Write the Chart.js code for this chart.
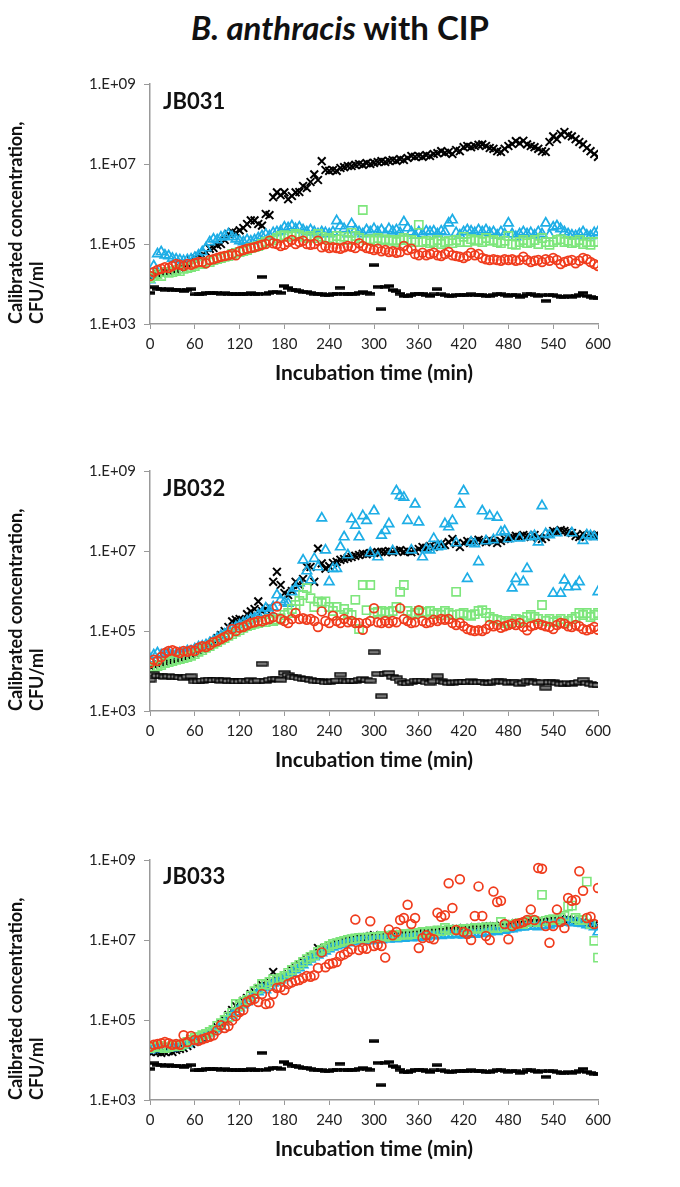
<!DOCTYPE html>
<html>
<head>
<meta charset="utf-8">
<script src="https://cdn.jsdelivr.net/npm/chart.js@4.4.0/dist/chart.umd.min.js"></script>
<style>
  body { margin:0; background:#fff; width:680px; height:1187px; position:relative; overflow:hidden; font-family:Lato, "Open Sans", sans-serif; }
  #title { position:absolute; left:0; top:7px; width:680px; text-align:center; font-weight:bold; font-size:33px; color:#111; }
  .panel { position:absolute; left:0; }
  .tag { position:absolute; left:163px; font-weight:bold; font-size:22px; color:#111; }
</style>
</head>
<body>
<div id="title"><i>B. anthracis</i> with CIP</div>
<canvas id="c1" class="panel" width="680" height="340" style="top:60px"></canvas>
<canvas id="c2" class="panel" width="680" height="340" style="top:447px"></canvas>
<canvas id="c3" class="panel" width="680" height="340" style="top:836px"></canvas>
<div class="tag" style="top:87px">JB031</div>
<div class="tag" style="top:474px">JB032</div>
<div class="tag" style="top:862px">JB033</div>
<script>
// sampling times (min)
var minutes = [0,5,10,15,20,25,30,35,40,45,50,55,60,65,70,75,80,85,90,95,
  100,105,110,115,120,125,130,135,140,145,150,155,160,165,170,175,180,185,190,195,
  200,205,210,215,220,225,230,235,240,245,250,255,260,265,270,275,280,285,290,295,
  300,305,310,315,320,325,330,335,340,345,350,355,360,365,370,375,380,385,390,395,
  400,405,410,415,420,425,430,435,440,445,450,455,460,465,470,475,480,485,490,495,
  500,505,510,515,520,525,530,535,540,545,550,555,560,565,570,575,580,585,590,595,600];

var yTickValues = [1e3, 1e5, 1e7, 1e9];
var yTickLabels = ['1.E+03', '1.E+05', '1.E+07', '1.E+09'];

// all concentrations below as log10(CFU/ml)

// negative control (same in the three panels)
var ctrlDash = [3.78,3.92,3.88,3.88,3.86,3.87,3.86,3.86,3.84,3.82,
  3.86,3.87,3.74,3.74,3.76,3.77,3.78,3.77,3.78,3.76,
  3.77,3.75,3.76,3.74,3.74,3.76,3.74,3.77,3.74,3.76,
  4.18,3.75,3.78,3.8,3.8,3.78,3.95,3.9,3.86,3.84,
  3.82,3.8,3.8,3.78,3.76,3.75,3.74,3.72,3.72,3.74,
  3.76,3.91,3.76,3.74,3.76,3.75,3.78,3.8,3.78,3.76,
  4.47,3.93,3.37,3.93,3.95,3.85,3.82,3.76,3.7,3.69,
  3.72,3.76,3.76,3.76,3.72,3.7,3.74,3.87,3.74,3.72,
  3.7,3.71,3.72,3.72,3.73,3.72,3.74,3.72,3.72,3.73,
  3.7,3.7,3.72,3.74,3.74,3.73,3.71,3.72,3.72,3.68,
  3.7,3.74,3.74,3.72,3.7,3.72,3.58,3.72,3.72,3.7,
  3.68,3.68,3.7,3.68,3.7,3.72,3.78,3.7,3.68,3.66,3.65];

// JB031
var jb031Cross = [4.2,4.22,4.25,4.28,4.3,4.32,4.35,4.35,4.4,4.42,
  4.5,4.6,4.65,4.7,4.72,4.8,4.88,4.9,4.97,5.0,
  5.1,5.25,5.3,5.28,5.34,5.4,5.5,5.59,5.59,5.5,
  5.46,5.75,5.72,6.17,6.29,6.22,6.29,6.12,6.2,6.29,
  6.3,6.45,6.4,6.55,6.74,6.6,7.07,6.85,6.83,6.85,
  6.83,6.9,6.92,6.95,6.95,6.98,7.0,6.98,7.02,7.0,
  7.03,7.05,7.07,7.05,7.08,7.1,7.08,7.12,7.1,7.15,
  7.2,7.18,7.2,7.18,7.22,7.2,7.25,7.27,7.32,7.28,
  7.3,7.25,7.35,7.32,7.42,7.45,7.42,7.45,7.48,7.49,
  7.45,7.4,7.38,7.32,7.3,7.38,7.45,7.5,7.57,7.52,
  7.58,7.49,7.45,7.42,7.38,7.32,7.3,7.55,7.69,7.62,
  7.75,7.8,7.72,7.69,7.62,7.55,7.49,7.4,7.32,7.25,7.18];
var jb031Tri = [4.1,4.45,4.75,4.8,4.72,4.7,4.64,4.62,4.6,4.58,
  4.6,4.62,4.66,4.72,4.8,4.9,5.05,5.12,5.1,5.17,
  5.2,5.25,5.18,5.12,5.08,5.05,5.1,5.07,5.1,5.15,
  5.2,5.24,5.2,5.28,5.3,5.32,5.42,5.4,5.45,5.38,
  5.42,5.35,5.3,5.35,5.3,5.25,5.3,5.28,5.25,5.3,
  5.58,5.45,5.38,5.25,5.5,5.35,5.3,5.25,5.35,5.3,
  5.38,5.3,5.35,5.25,5.38,5.32,5.35,5.28,5.55,5.4,
  5.3,5.22,5.3,5.25,5.32,5.3,5.32,5.25,5.32,5.3,
  5.52,5.6,5.28,5.22,5.3,5.35,5.32,5.28,5.35,5.3,
  5.35,5.28,5.3,5.22,5.3,5.25,5.52,5.25,5.18,5.25,
  5.3,5.25,5.28,5.22,5.3,5.25,5.52,5.22,5.42,5.45,
  5.38,5.3,5.25,5.22,5.2,5.25,5.3,5.22,5.2,5.28,5.3];
var jb031Sq = [4.15,4.2,4.25,4.2,4.3,4.28,4.3,4.35,4.32,4.38,
  4.4,4.42,4.45,4.5,4.5,4.55,4.55,4.6,4.62,4.65,
  4.68,4.7,4.75,4.78,4.8,4.82,4.85,4.9,4.92,4.95,
  5.0,5.05,5.08,5.1,5.15,5.2,5.22,5.18,5.2,5.25,
  5.22,5.18,5.15,5.2,5.15,5.25,5.18,5.12,5.15,5.1,
  5.2,5.12,5.18,5.1,5.28,5.2,5.15,5.85,5.1,5.12,
  5.08,5.15,5.1,5.12,5.08,5.1,5.05,5.1,5.15,5.1,
  5.1,5.05,5.48,5.05,5.08,5.02,5.05,5.1,5.0,5.05,
  5.08,5.02,5.1,5.05,5.18,5.05,5.12,5.08,5.1,5.05,
  5.15,5.08,5.1,5.05,5.02,5.08,5.2,5.0,4.98,5.05,
  5.1,5.02,5.05,5.1,5.0,5.15,5.05,4.98,5.05,5.1,
  5.12,5.05,5.08,5.02,5.05,5.1,5.0,5.05,4.98,5.05,5.05];
var jb031Circ = [4.2,4.3,4.35,4.38,4.42,4.4,4.45,4.5,4.48,4.45,
  4.5,4.48,4.52,4.55,4.55,4.52,4.6,4.62,4.65,4.68,
  4.7,4.72,4.75,4.72,4.82,4.85,4.88,4.9,4.92,4.95,
  4.98,5.0,5.08,5.02,5.0,4.95,4.98,5.05,5.1,5.0,
  5.05,5.08,5.0,4.98,5.0,5.08,4.92,4.95,4.9,4.92,
  4.9,4.88,4.92,4.95,4.93,4.9,5.02,4.95,4.9,4.88,
  4.85,4.88,4.82,4.85,4.8,4.82,4.78,4.8,4.95,4.85,
  4.88,4.75,4.72,4.78,4.72,4.75,4.78,4.72,4.7,4.75,
  4.8,4.72,4.7,4.68,4.65,4.7,4.78,4.72,4.75,4.65,
  4.62,4.6,4.62,4.6,4.58,4.62,4.6,4.62,4.58,4.6,
  4.68,4.6,4.55,4.58,4.6,4.55,4.62,4.58,4.65,4.6,
  4.5,4.55,4.58,4.6,4.52,4.58,4.65,4.62,4.55,4.5,4.45];

// JB032
var jb032Cross = [4.12,4.15,4.18,4.2,4.22,4.25,4.28,4.3,4.32,4.35,
  4.38,4.42,4.45,4.5,4.55,4.6,4.68,4.75,4.82,4.9,
  5.0,5.1,5.24,5.28,5.3,5.25,5.42,5.49,5.55,5.74,
  5.5,5.55,5.6,6.23,6.48,6.15,5.95,5.9,6.0,6.23,
  6.15,6.3,6.6,6.6,6.23,7.06,6.69,6.56,6.62,6.7,
  6.73,6.78,6.8,6.83,6.85,6.88,6.9,6.93,6.92,6.95,
  6.95,6.97,6.98,6.98,7.0,6.97,7.0,7.02,6.98,7.0,
  6.97,7.0,7.05,7.1,7.08,7.12,7.1,7.15,7.18,7.15,
  7.22,7.3,7.18,7.1,7.2,7.25,7.22,7.25,7.28,7.25,
  7.22,7.28,7.25,7.2,7.25,7.3,7.32,7.35,7.38,7.35,
  7.4,7.38,7.35,7.4,7.32,7.3,7.35,7.45,7.5,7.48,
  7.52,7.5,7.48,7.45,7.38,7.35,7.42,7.38,7.4,7.38,7.4];
var jb032Tri = [4.3,4.4,4.45,4.4,4.42,4.45,4.4,4.42,4.45,4.45,
  4.5,4.5,4.55,4.6,4.62,4.65,4.7,4.75,4.82,4.88,
  4.92,5.0,5.05,5.1,5.15,5.2,5.25,5.3,5.32,5.4,
  5.45,5.57,5.5,5.6,5.9,5.78,5.72,5.69,5.98,6.07,
  6.2,6.77,6.5,6.27,6.81,6.6,7.82,7.02,6.23,6.56,
  6.56,7.1,7.35,6.9,7.8,7.64,7.35,7.88,7.76,6.95,
  8.0,6.85,7.39,7.51,7.68,7.0,8.5,8.38,8.34,7.76,
  7.02,8.17,7.72,6.85,7.05,7.02,7.31,7.1,7.12,7.68,
  7.6,7.76,7.2,8.17,8.5,6.31,7.22,7.18,6.73,8.0,
  7.25,7.88,7.28,7.84,7.47,7.5,7.3,6.07,6.31,7.32,
  6.23,6.56,7.35,7.38,7.22,8.13,7.43,7.4,5.94,7.45,
  5.94,6.27,6.1,7.45,6.11,6.23,7.26,7.4,7.38,7.35,5.98];
var jb032Sq = [4.05,4.1,4.12,4.15,4.2,4.22,4.25,4.28,4.3,4.32,
  4.35,4.38,4.42,4.48,4.52,4.58,4.62,4.68,4.72,4.78,
  4.82,4.88,4.92,4.98,5.02,5.08,5.12,5.15,5.18,5.2,
  5.25,5.22,5.3,5.25,5.28,5.32,5.4,5.45,5.55,5.65,
  5.75,5.9,6.07,5.82,5.6,5.74,5.7,5.74,5.6,5.5,
  5.6,5.4,5.55,5.45,5.4,5.78,5.05,6.15,5.52,6.15,
  5.45,5.48,5.5,5.45,5.48,5.5,5.6,5.98,6.15,5.5,
  5.4,5.45,5.5,5.45,5.48,5.5,5.42,5.45,5.4,5.5,
  5.45,5.4,5.98,5.42,5.45,5.4,5.38,5.42,5.5,5.52,
  5.45,5.35,5.3,5.28,5.25,5.2,5.25,5.22,5.3,5.28,
  5.25,5.35,5.4,5.35,5.3,5.65,5.25,5.3,5.22,5.25,
  5.3,5.2,5.25,5.3,5.35,5.45,5.4,5.45,5.35,5.4,5.45];
var jb032Circ = [4.2,4.28,4.25,4.35,4.45,4.5,4.52,4.48,4.45,4.5,
  4.48,4.52,4.5,4.58,4.62,4.6,4.65,4.72,4.75,4.8,
  4.85,4.9,5.05,5.0,5.08,5.1,5.15,5.2,5.22,5.25,
  5.24,5.28,5.3,5.35,5.61,5.3,5.25,5.2,5.3,5.45,
  5.3,5.32,5.28,5.3,5.25,5.1,5.49,5.25,5.2,5.38,
  5.25,5.2,5.3,5.22,5.25,5.2,5.2,5.03,5.2,5.25,
  5.57,5.22,5.2,5.25,5.2,5.25,5.22,5.57,5.3,5.25,
  5.2,5.22,5.52,5.25,5.2,5.22,5.28,5.25,5.3,5.28,
  5.3,5.2,5.15,5.2,5.12,5.05,5.02,5.0,5.02,5.0,
  5.05,5.15,5.12,5.15,5.08,5.12,5.15,5.18,5.15,5.2,
  5.1,5.02,5.12,5.15,5.18,5.15,5.12,5.1,5.05,5.15,
  5.2,5.18,5.12,5.1,5.15,5.12,5.05,5.02,5.05,5.1,5.03];

// JB033
var jb033Cross = [4.2,4.22,4.2,4.18,4.2,4.22,4.2,4.25,4.28,4.3,
  4.35,4.4,4.45,4.5,4.55,4.62,4.68,4.75,4.82,4.9,
  5.0,5.12,5.25,5.35,5.4,5.48,5.55,5.65,5.7,5.8,
  5.88,5.85,5.95,6.2,6.0,6.05,6.08,6.15,6.25,6.3,
  6.38,6.45,6.5,6.58,6.62,6.8,6.72,6.78,6.85,6.88,
  6.92,6.95,6.98,7.0,7.02,7.03,7.05,7.05,7.07,7.1,
  7.12,7.08,7.1,7.1,7.12,7.12,7.13,7.15,7.14,7.16,
  7.17,7.18,7.18,7.2,7.2,7.22,7.22,7.24,7.25,7.24,
  7.26,7.25,7.28,7.27,7.3,7.28,7.3,7.32,7.3,7.32,
  7.33,7.34,7.35,7.33,7.36,7.37,7.38,7.4,7.42,7.4,
  7.42,7.44,7.45,7.42,7.44,7.46,7.45,7.48,7.5,7.48,
  7.52,7.5,7.52,7.5,7.48,7.45,7.44,7.42,7.4,7.38,7.35];
var jb033Tri = [4.25,4.3,4.28,4.3,4.28,4.3,4.3,4.32,4.35,4.38,
  4.4,4.45,4.48,4.52,4.58,4.62,4.68,4.72,4.78,4.85,
  4.95,5.05,5.12,5.2,5.3,5.38,5.45,5.55,5.62,5.7,
  5.8,5.75,5.85,5.92,5.95,6.0,6.05,6.1,6.18,6.25,
  6.3,6.38,6.45,6.52,6.58,6.62,6.68,6.72,6.78,6.82,
  6.85,6.88,6.9,6.93,6.95,6.97,6.98,6.99,7.02,6.98,
  7.0,7.03,7.0,7.04,7.02,7.05,7.03,7.06,7.04,7.07,
  7.05,7.08,7.06,7.1,7.08,7.12,7.1,7.13,7.11,7.14,
  7.12,7.15,7.13,7.16,7.12,7.15,7.17,7.14,7.18,7.16,
  7.19,7.2,7.23,7.21,7.25,7.24,7.27,7.28,7.3,7.33,
  7.32,7.35,7.34,7.36,7.33,7.36,7.38,7.37,7.41,7.42,
  7.44,7.46,7.45,7.43,7.46,7.42,7.41,7.38,7.36,7.33,7.2];
var jb033Sq = [4.3,4.35,4.32,4.35,4.3,4.32,4.35,4.38,4.35,4.4,
  4.45,4.5,4.55,4.58,4.62,4.65,4.7,4.75,4.85,4.92,
  5.0,5.08,5.18,5.4,5.35,5.45,5.5,5.6,5.72,5.78,
  5.9,5.88,5.95,6.02,6.0,6.05,6.1,6.18,6.25,6.32,
  6.38,6.45,6.52,6.58,6.62,6.7,6.75,6.8,6.85,6.9,
  6.92,6.95,6.98,7.0,7.02,7.04,7.05,7.06,7.05,7.07,
  7.08,7.06,7.1,7.08,7.1,7.12,7.1,7.13,7.15,7.13,
  7.16,7.15,7.18,7.2,7.18,7.22,7.2,7.24,7.22,7.3,
  7.25,7.24,7.26,7.25,7.28,7.26,7.28,7.3,7.28,7.3,
  7.32,7.3,7.32,7.3,7.45,7.33,7.35,7.38,7.4,7.42,
  7.4,7.45,7.5,7.48,7.45,8.13,7.48,7.5,7.52,7.5,
  7.55,7.6,7.84,7.86,7.55,7.5,7.5,8.46,7.4,6.98,6.56];
var jb033Circ = [4.33,4.38,4.4,4.42,4.45,4.42,4.38,4.4,4.38,4.62,
  4.45,4.6,4.5,4.48,4.52,4.55,4.58,4.62,4.74,4.87,
  4.8,4.85,4.99,5.1,5.2,5.25,5.45,5.5,5.53,5.45,
  5.65,5.4,5.42,5.65,5.8,5.82,5.75,5.9,5.94,5.98,
  6.0,6.05,6.1,6.08,6.12,6.3,6.69,6.32,6.4,6.42,
  6.45,6.6,6.64,6.7,6.77,7.51,6.75,6.8,6.78,7.47,
  6.85,6.88,6.85,6.56,7.26,7.12,7.2,7.5,7.55,7.88,
  7.4,7.55,6.8,7.05,7.12,7.05,7.02,7.68,7.58,7.62,
  8.42,7.8,7.25,8.52,7.2,7.15,7.0,7.6,8.34,7.6,
  7.1,7.0,8.21,7.95,7.98,7.4,7.02,7.35,7.4,7.42,
  7.45,7.5,7.76,7.5,8.8,8.78,7.35,6.93,7.35,7.76,
  7.45,7.3,8.05,7.98,8.0,8.72,8.23,7.55,7.58,7.4,8.3];

var BLUE = '#1eaee6', GREEN = '#7ee67c', RED = '#f03b1c';

function toPoints(logs) {
  return minutes.map(function (t, i) { return { x: t, y: Math.pow(10, logs[i]) }; });
}

function dashMark(outlined) {
  var c = document.createElement('canvas');
  if (outlined) {
    c.width = 13; c.height = 6;
    var g = c.getContext('2d');
    g.fillStyle = '#7a7a7a';
    g.fillRect(1, 1, 11, 4);
    g.strokeStyle = '#000';
    g.lineWidth = 1.3;
    g.strokeRect(1, 1, 11, 4);
  } else {
    c.width = 10; c.height = 4;
    var g2 = c.getContext('2d');
    g2.fillStyle = '#000';
    g2.fillRect(0, 0.3, 10, 3.4);
  }
  return c;
}

function makePanel(id, cross, tri, sq, circ, outlined) {
  new Chart(document.getElementById(id), {
    type: 'scatter',
    data: {
      datasets: [
        { data: toPoints(ctrlDash), pointStyle: dashMark(outlined), pointRadius: 5 },
        { data: toPoints(circ), pointStyle: 'circle', pointRadius: 4.4, borderWidth: 1.7, borderColor: RED, backgroundColor: 'rgba(0,0,0,0)' },
        { data: toPoints(sq), pointStyle: 'rect', pointRadius: 5.8, borderWidth: 1.6, borderColor: GREEN, backgroundColor: 'rgba(0,0,0,0)' },
        { data: toPoints(tri), pointStyle: 'triangle', pointRadius: 5.5, borderWidth: 1.7, borderColor: BLUE, backgroundColor: 'rgba(0,0,0,0)' },
        { data: toPoints(cross), pointStyle: 'crossRot', pointRadius: 5.5, borderWidth: 2, borderColor: '#000' }
      ]
    },
    options: {
      responsive: false,
      animation: false,
      layout: { padding: { top: 24, right: 82, bottom: 10, left: 0 } },
      plugins: { legend: { display: false }, tooltip: { enabled: false } },
      scales: {
        x: {
          type: 'linear', min: 0, max: 600,
          ticks: { stepSize: 60, color: '#222', font: { family: 'Lato', size: 15 }, padding: 6 },
          grid: { drawOnChartArea: false, color: '#999', tickLength: 5 },
          border: { color: '#999', width: 1.5 },
          title: { display: true, text: 'Incubation time (min)', color: '#111', font: { family: 'Lato', size: 21, weight: 'bold' }, padding: { top: 4, bottom: 4 } },
          afterFit: function (s) { s.height = 66; }
        },
        y: {
          type: 'logarithmic', min: 1e3, max: 1e9,
          afterBuildTicks: function (s) { s.ticks = yTickValues.map(function (v) { return { value: v }; }); },
          ticks: { color: '#222', font: { family: 'Lato', size: 15 }, padding: 8, callback: function (v, i) { return yTickLabels[i]; } },
          grid: { drawOnChartArea: false, color: '#999', tickLength: 6 },
          border: { color: '#999', width: 1.5 },
          title: { display: true, align: 'start', text: ['Calibrated concentration,', 'CFU/ml'], color: '#111', font: { family: 'Lato', size: 18, weight: 'bold', lineHeight: 1.15 }, padding: { top: 6, bottom: 0 } },
          afterFit: function (s) { s.width = 150; }
        }
      }
    }
  });
}

makePanel('c1', jb031Cross, jb031Tri, jb031Sq, jb031Circ, false);
makePanel('c2', jb032Cross, jb032Tri, jb032Sq, jb032Circ, true);
makePanel('c3', jb033Cross, jb033Tri, jb033Sq, jb033Circ, false);
</script>
</body>
</html>
